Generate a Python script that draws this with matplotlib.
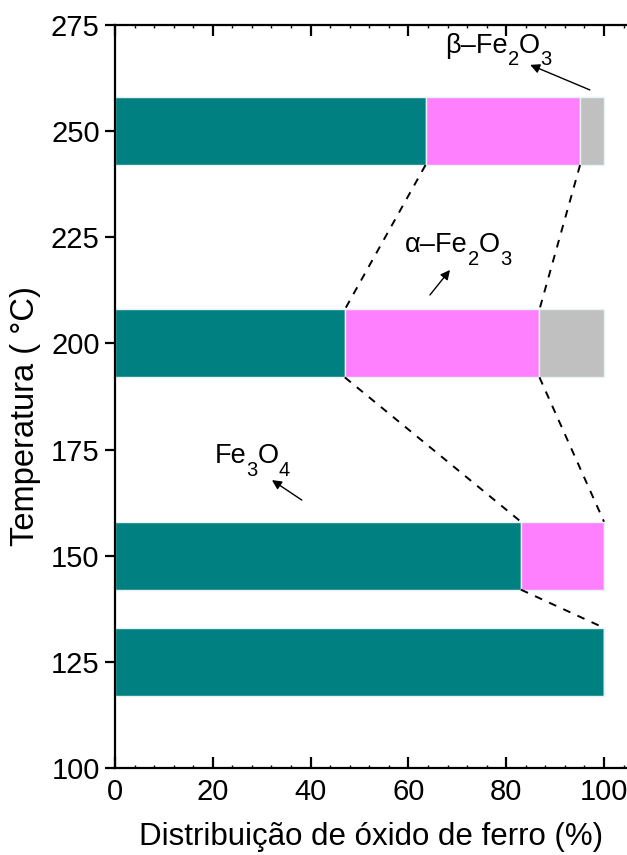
import numpy as np
import matplotlib.pyplot as plt
from matplotlib.ticker import MultipleLocator

plt.rcParams["font.family"] = ["Liberation Sans", "DejaVu Sans"]

# Temperature (°C) and oxide fraction (%) at each temperature
temperatures = [125, 150, 200, 250]
fe3o4 = [100.0, 83.0, 47.0, 63.5]
alpha_fe2o3 = [0.0, 17.0, 39.8, 31.6]
beta_fe2o3 = [0.0, 0.0, 13.2, 4.9]

colors = ["#008080", "#ff80ff", "#c0c0c0"]
bar_h = 16

fig = plt.figure(figsize=(6.27, 8.55), dpi=100)
ax = fig.add_axes([0.1834, 0.1018, 0.8166, 0.8690])

left = np.zeros(len(temperatures))
for vals, c in zip([fe3o4, alpha_fe2o3, beta_fe2o3], colors):
    vals = np.array(vals)
    ax.barh(temperatures, vals, left=left, height=bar_h, color=c,
            edgecolor="#e8f4f4", linewidth=1.0)
    left = left + vals

# dashed guides joining phase boundaries of neighbouring bars
b1 = np.array(fe3o4)
b2 = b1 + np.array(alpha_fe2o3)
pairs = [(3, 2, b1), (3, 2, b2), (2, 1, b1), (2, 1, b2), (1, 0, b1)]
for upper, lower, b in pairs:
    ax.plot([b[upper], b[lower]],
            [temperatures[upper] - bar_h / 2, temperatures[lower] + bar_h / 2],
            color="black", lw=1.4, dashes=(4, 4))


def chem(x, y, pieces, size=19.5, sub_size=14.5, drop=9):
    """Write a formula from (text, is_subscript) pieces, left to right."""
    prev = ax.text(x, y, pieces[0][0], fontsize=size, va="baseline")
    for s, is_sub in pieces[1:]:
        prev = ax.annotate(s, xy=(1, y), xycoords=(prev, "data"),
                           xytext=(0, -drop if is_sub else 0),
                           textcoords="offset points", va="baseline",
                           fontsize=sub_size if is_sub else size)


arrow = dict(arrowstyle="-|>", color="black", lw=1.0,
             mutation_scale=14, shrinkA=0, shrinkB=0)

ax.annotate("", xy=(84.9, 265.6), xytext=(97.1, 259.7), arrowprops=arrow)
chem(67.5, 268.4, [("β–Fe", False), ("2", True), ("O", False), ("3", True)])

ax.annotate("", xy=(68.5, 217.3), xytext=(64.4, 211.4), arrowprops=arrow)
chem(59.3, 221.5, [("α–Fe", False), ("2", True), ("O", False), ("3", True)])

ax.annotate("", xy=(32.1, 167.8), xytext=(38.2, 163.1), arrowprops=arrow)
chem(20.4, 171.8, [("Fe", False), ("3", True), ("O", False), ("4", True)])

ax.set_xlim(0, 104.7)
ax.set_ylim(100, 275)
ax.xaxis.set_major_locator(MultipleLocator(20))
ax.xaxis.set_minor_locator(MultipleLocator(4))
ax.yaxis.set_major_locator(MultipleLocator(25))

ax.spines["right"].set_visible(False)
for s in ["left", "bottom", "top"]:
    ax.spines[s].set_linewidth(1.6)

ax.tick_params(axis="x", which="major", direction="in", length=8, width=1.6,
               labelsize=21, pad=7, top=True)
ax.tick_params(axis="x", which="minor", direction="in", length=2, width=1.0,
               top=True)
ax.tick_params(axis="y", which="major", direction="out", length=7, width=1.6,
               labelsize=21, pad=4)

ax.set_xlabel("Distribuição de óxido de ferro (%)", fontsize=22.5, labelpad=12)
ax.set_ylabel("Temperatura ( °C)", fontsize=23.5)
ax.yaxis.set_label_coords(-0.145, 0.474)

fig.savefig("out.png", dpi=100)
